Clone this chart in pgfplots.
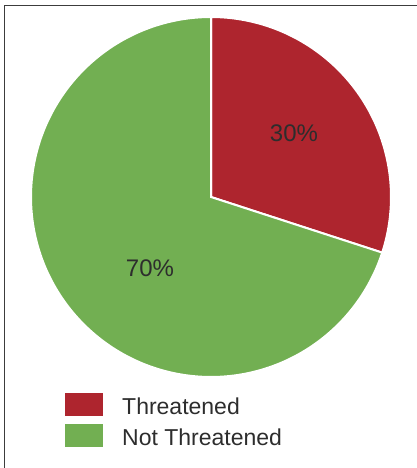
\documentclass[border=0pt]{standalone}
\usepackage{fontspec}
\setmainfont{Liberation Sans}
\usepackage{pgfplots}
\pgfplotsset{compat=1.18}
\definecolor{thr}{RGB}{174,37,46}
\definecolor{nthr}{RGB}{114,175,82}
\definecolor{txt}{RGB}{45,45,45}
\definecolor{frame}{RGB}{60,60,60}
\begin{document}
\begin{tikzpicture}
\begin{axis}[
 scale only axis, width=417pt, height=468pt,
 xmin=0,xmax=417,ymin=0,ymax=468,
 hide axis, clip=false,
 legend style={at={(axis cs:65,75)}, anchor=north west, draw=none, fill=none,
   font=\fontsize{23}{25}\selectfont, text=txt, row sep=8pt, inner sep=0pt,
   nodes={inner sep=0pt}},
 legend cell align=left,
 legend image code/.code={\fill[#1,draw=none] (0pt,-9.5pt) rectangle (38pt,13.5pt);},
 /tikz/every odd column/.style={column sep=19pt},
]
% Threatened 30 %, Not Threatened 70 %; start at 90 deg, clockwise
\addplot[fill=thr, draw=white, line width=2pt, domain={90-3.6*30}:90, samples=90]
  ({211+180*cos(x)},{271+180*sin(x)}) -- (axis cs:211,271) -- cycle;
\addlegendentry{Threatened}
\addplot[fill=nthr, draw=white, line width=2pt, domain=90:{90+3.6*70}, samples=200]
  ({211+180*cos(x)},{271+180*sin(x)}) -- (axis cs:211,271) -- cycle;
\addlegendentry{Not Threatened}
\node[text=txt, font=\fontsize{24}{26}\selectfont] at (axis cs:294,335) {30\%};
\node[text=txt, font=\fontsize{24}{26}\selectfont] at (axis cs:150,200) {70\%};
\draw[frame, line width=1.5pt] (axis cs:4.5,0) -- (axis cs:4.5,462.5) -- (axis cs:417,462.5);
\coordinate (bl) at (axis cs:0,0);
\coordinate (tr) at (axis cs:417,468);
\end{axis}
\pgfresetboundingbox
\useasboundingbox (bl) rectangle (tr);
\end{tikzpicture}
\end{document}
